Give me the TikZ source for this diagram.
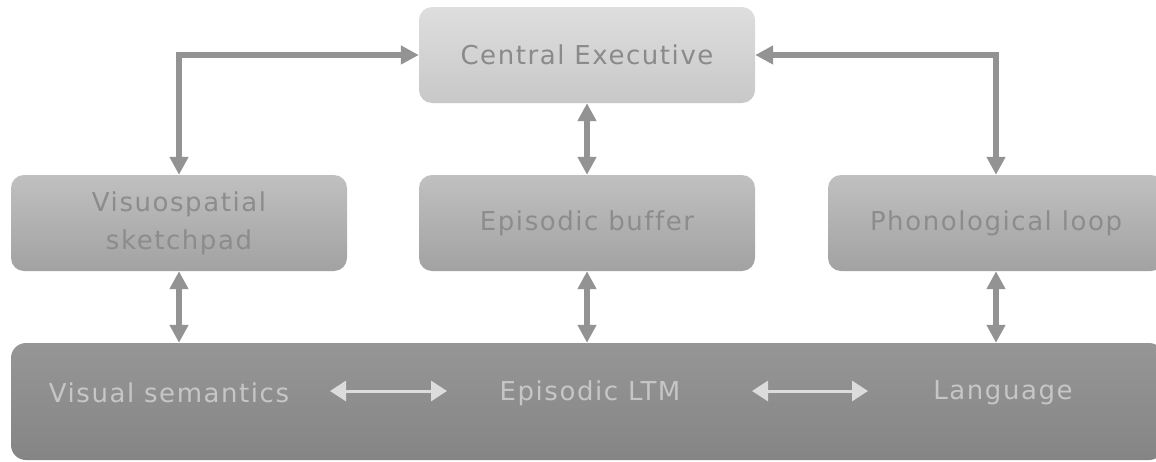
\documentclass[tikz,border=0pt]{standalone}
\usepackage{fontspec}
\setmainfont{DejaVu Sans}[LetterSpace=6, Ligatures=NoCommon]
\usetikzlibrary{arrows.meta,shadings}

\definecolor{linkgray}{HTML}{939393}
\definecolor{innerlink}{HTML}{DCDCDC}
\definecolor{cetop}{HTML}{DEDEDE}
\definecolor{cebot}{HTML}{C8C8C8}
\definecolor{midtop}{HTML}{C0C0C0}
\definecolor{midbot}{HTML}{A2A2A2}
\definecolor{basetop}{HTML}{969696}
\definecolor{basebot}{HTML}{858585}
\definecolor{cetext}{HTML}{8A8A8A}
\definecolor{midtext}{HTML}{8C8C8C}
\definecolor{basetext}{HTML}{C6C6C6}

\tikzset{
  box/.style={rounded corners=13pt, minimum width=336pt, minimum height=96pt,
    inner sep=0pt, align=center, font=\fontsize{26}{31}\selectfont},
  cebox/.style={box, top color=cetop, bottom color=cebot, text=cetext},
  midbox/.style={box, top color=midtop, bottom color=midbot, text=midtext},
  basebox/.style={rounded corners=15pt, minimum width=1153pt, minimum height=117pt,
    inner sep=0pt, top color=basetop, bottom color=basebot},
  storelabel/.style={text=basetext, inner sep=0pt, font=\fontsize{26}{31}\selectfont},
  link/.style={draw=linkgray, line width=6pt,
    {Triangle[length=18pt,width=18pt]}-{Triangle[length=18pt,width=18pt]}},
  innerarrow/.style={draw=innerlink, line width=3pt,
    {Triangle[length=16pt,width=20pt]}-{Triangle[length=16pt,width=20pt]}}
}

\begin{document}
\begin{tikzpicture}[x=1pt, y=-1pt]
  \useasboundingbox (0,0) rectangle (1156,461);

  % components of working memory
  \node[cebox]  (ce) at (587,55) {Central Executive};
  \node[midbox] (vs) at (179,223) {Visuospatial\\[7pt]sketchpad};
  \node[midbox] (eb) at (587,223) {Episodic buffer};
  \node[midbox] (pl) at (996,223) {Phonological loop};

  % long-term memory band
  \node[basebox] (ltm) at (587.5,401.5) {};
  \node[storelabel] (vsem) at (169,393) {Visual semantics};
  \node[storelabel] (eltm) at (590,393) {Episodic LTM};
  \node[storelabel] (lang) at (1003,393) {Language};

  % links between the executive and its subsystems
  \draw[link] (ce.west) -| (vs.north);
  \draw[link] (ce.east) -| (pl.north);
  \draw[link] (ce.south) -- (eb.north);

  % links from the subsystems to long-term memory
  \draw[link] (vs.south) -- (vs.south |- ltm.north);
  \draw[link] (eb.south) -- (eb.south |- ltm.north);
  \draw[link] (pl.south) -- (pl.south |- ltm.north);

  % exchanges within long-term memory
  \coordinate (a1) at (330,391);
  \coordinate (a2) at (447,391);
  \coordinate (b1) at (752,391);
  \coordinate (b2) at (868,391);
  \draw[innerarrow] (a1) -- (a2);
  \draw[innerarrow] (b1) -- (b2);
\end{tikzpicture}
\end{document}
